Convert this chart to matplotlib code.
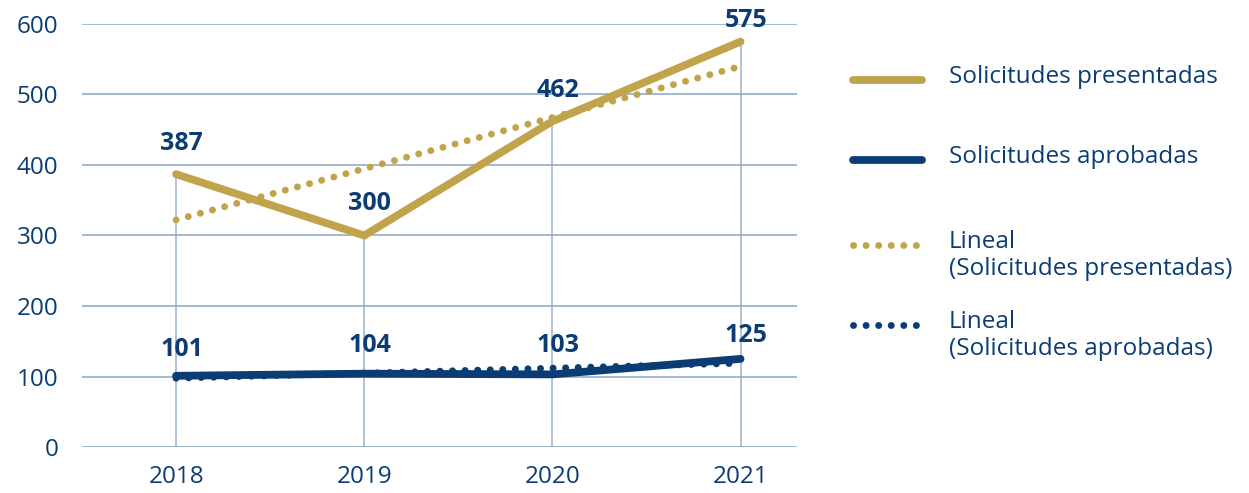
import matplotlib.pyplot as plt
import numpy as np
from matplotlib.lines import Line2D

years = [2018, 2019, 2020, 2021]
presentadas = [387, 300, 462, 575]
aprobadas = [101, 104, 103, 125]
y_ticks = [0, 100, 200, 300, 400, 500, 600]

legend_labels = [
    "Solicitudes presentadas",
    "Solicitudes aprobadas",
    "Lineal\n(Solicitudes presentadas)",
    "Lineal\n(Solicitudes aprobadas)",
]

GOLD = "#C1A34B"
NAVY = "#0B3D74"
GRID = "#8AA5C2"
VGRID = "#A9BDD2"

plt.rcParams["font.family"] = ["Open Sans", "DejaVu Sans"]


def main() -> None:
    W, H = 1249, 493
    fig = plt.figure(figsize=(W / 100, H / 100), dpi=100)
    ax = fig.add_axes([82 / W, 1 - 447 / H, (797 - 82) / W, (447 - 24) / H])

    x = np.array(years)
    # drop lines from the presented series down to the axis
    ax.vlines(x, 0, presentadas, color=VGRID, linewidth=1.3, zorder=1)
    for yv in y_ticks:
        ax.axhline(yv, color=GRID, linewidth=1.1, zorder=1)

    # linear trend lines
    t = np.arange(len(years))
    fp = np.polyfit(t, presentadas, 1)
    fa = np.polyfit(t, aprobadas, 1)
    dots = dict(linestyle=(0, (0.01, 1.8)), dash_capstyle="round", linewidth=5.0, clip_on=False)
    ax.plot(x, np.polyval(fp, t), color=GOLD, zorder=2, **dots)
    ax.plot(x, np.polyval(fa, t), color=NAVY, zorder=2, **dots)

    solid = dict(linewidth=5.6, solid_capstyle="round", solid_joinstyle="miter", clip_on=False)
    ax.plot(x, presentadas, color=GOLD, zorder=3, **solid)
    ax.plot(x, aprobadas, color=NAVY, zorder=3, **solid)

    # label offsets (points) roughly as placed in the original
    off_p = [13, 14, 13, 6]
    off_a = [10, 11, 12, 8]
    for xv, yv, dy in zip(x, presentadas, off_p):
        ax.annotate(str(yv), (xv, yv), xytext=(4, dy), textcoords="offset points",
                    ha="center", va="bottom", fontsize=18, fontweight="bold", color=NAVY)
    for xv, yv, dy in zip(x, aprobadas, off_a):
        ax.annotate(str(yv), (xv, yv), xytext=(4, dy), textcoords="offset points",
                    ha="center", va="bottom", fontsize=18, fontweight="bold", color=NAVY)

    ax.set_xlim(2017.5, 2021.3)
    ax.set_ylim(0, 600)
    ax.set_xticks(years)
    ax.set_yticks(y_ticks)
    ax.tick_params(length=0, labelsize=17.5, labelcolor=NAVY)
    ax.tick_params(axis="x", pad=13)
    ax.tick_params(axis="y", pad=17)
    for s in ax.spines.values():
        s.set_visible(False)

    # legend drawn by hand on the figure
    rows = [80, 160, 245, 325]
    styles = [
        dict(color=GOLD, linewidth=5.6, solid_capstyle="round"),
        dict(color=NAVY, linewidth=5.6, solid_capstyle="round"),
        dict(color=GOLD, linewidth=5.0, linestyle=(0, (0.01, 1.8)), dash_capstyle="round"),
        dict(color=NAVY, linewidth=5.0, linestyle=(0, (0.01, 1.8)), dash_capstyle="round"),
    ]
    for yr, st, lab in zip(rows, styles, legend_labels):
        fy = 1 - yr / H
        fig.add_artist(Line2D([853 / W, 922 / W], [fy, fy], transform=fig.transFigure, **st))
        fig.text(949 / W, 1 - (yr - 15) / H, lab, ha="left", va="top", fontsize=17.5,
                 color=NAVY, linespacing=1.15)

    fig.savefig("out.png", dpi=100)


if __name__ == "__main__":
    main()
